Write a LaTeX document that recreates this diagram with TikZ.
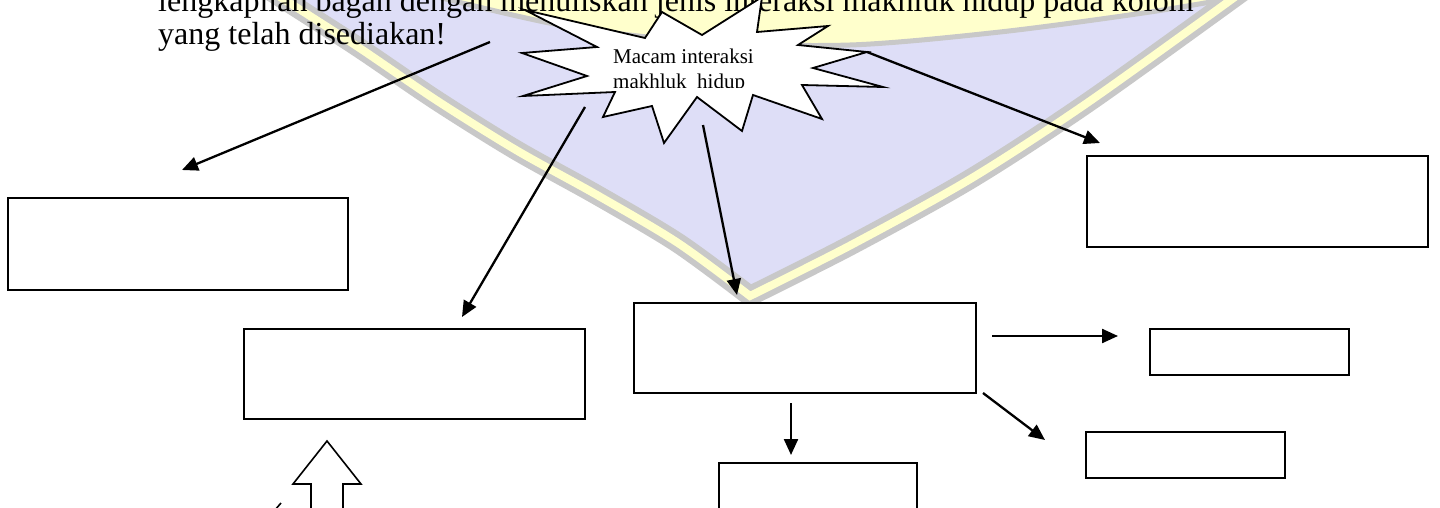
\documentclass[tikz,border=0pt]{standalone}
\usepackage{fontspec}
\setmainfont{Liberation Serif}
\usetikzlibrary{arrows.meta}
\definecolor{wmlav}{RGB}{222,222,247}
\definecolor{wmyel}{RGB}{255,255,204}
\definecolor{wmgray}{RGB}{200,200,200}
\begin{document}
\begin{tikzpicture}[x=1pt,y=-1pt,
  wbox/.style={draw,line width=1.8pt,fill=white,inner sep=0pt,outer sep=0pt,anchor=north west},
  arr/.style={line width=2.3pt,-{Triangle[length=16pt,width=14pt]}},
  bigtext/.style={anchor=base west,inner sep=0pt,font=\fontsize{32}{35}\selectfont},
  startext/.style={anchor=base west,inner sep=0pt,font=\fontsize{21}{24}\selectfont}]
\useasboundingbox (0,0) rectangle (1440,508);
\clip (0,0) rectangle (1440,508);
% watermark
\fill[wmlav] plot[smooth] coordinates {(266,-12) (355,45) (436,100) (516,150) (597,195) (678,243) (750,296)}
   -- plot[smooth] coordinates {(750,296) (853,244) (972,178) (1090,101) (1250,-14)} -- cycle;
\fill[wmyel] (420,-10) -- plot[smooth] coordinates {(430,-5) (560,25) (700,42) (850,45) (1000,32) (1150,12) (1250,-5)} -- (1260,-10) -- cycle;
\draw[wmgray,line width=5pt] plot[smooth] coordinates {(430,-5) (560,25) (700,42) (850,45) (1000,32) (1150,12) (1250,-5)};
\draw[wmgray,line width=20pt,line join=miter] plot[smooth] coordinates {(266,-12) (355,45) (436,100) (516,150) (597,195) (678,243) (750,296)}
   -- plot[smooth] coordinates {(750,296) (853,244) (972,178) (1090,101) (1250,-14)};
\draw[wmyel,line width=8pt,line join=miter] plot[smooth] coordinates {(266,-12) (355,45) (436,100) (516,150) (597,195) (678,243) (750,296)}
   -- plot[smooth] coordinates {(750,296) (853,244) (972,178) (1090,101) (1250,-14)};
% heading text
\node[bigtext] (t1) at (158,12) {lengkapilah bagan dengan menuliskan jenis interaksi makhluk hidup pada kolom};
\node[bigtext] (t2) at (158,45) {yang telah disediakan!};
% star
\draw[line width=1.8pt,fill=white,line join=miter] (525,10) -- (645,38) -- (662,12) -- (702,35) -- (762,-3) -- (757,32) -- (828,26) -- (798,45) -- (867,52) -- (813,68) -- (883,87) -- (802,85) -- (822,119) -- (753,95) -- (742,131) -- (697,97) -- (664,143) -- (652,106) -- (603,117) -- (615,92) -- (523,96) -- (587,76) -- (522,53) -- (597,47) -- cycle;
\begin{scope}
\clip (600,40) rectangle (800,88);
\node[startext] (s1) at (613,64) {Macam interaksi};
\node[startext] (s2) at (613,88.5) {makhluk~~hidup};
\end{scope}
% boxes
\node[wbox,minimum width=340pt,minimum height=92pt] (A) at (8,198) {};
\node[wbox,minimum width=341pt,minimum height=90pt] (B) at (244,329) {};
\node[wbox,minimum width=342pt,minimum height=90pt] (C) at (634,303) {};
\node[wbox,minimum width=341pt,minimum height=91pt] (D) at (1087,156) {};
\node[wbox,minimum width=199pt,minimum height=46pt] (E) at (1150,329) {};
\node[wbox,minimum width=199pt,minimum height=46pt] (F) at (1086,432) {};
\node[wbox,minimum width=198pt,minimum height=70pt] (G) at (719,463) {};
% arrow coordinates
\coordinate (a1s) at (490,42);  \coordinate (a1e) at (182,170);
\coordinate (a2s) at (585,107); \coordinate (a2e) at (462,317);
\coordinate (a3s) at (703,125); \coordinate (a3e) at (737,295);
\coordinate (a4s) at (867,52);  \coordinate (a4e) at (1100,143);
\coordinate (a5s) at (992,336); \coordinate (a5e) at (1118,336);
\coordinate (a6s) at (983,393); \coordinate (a6e) at (1045,440);
\coordinate (a7s) at (791,403); \coordinate (a7e) at (791,455);
\draw[arr] (a1s) -- (a1e);
\draw[arr] (a2s) -- (a2e);
\draw[arr] (a3s) -- (a3e);
\draw[arr] (a4s) -- (a4e);
\draw[arr] (a5s) -- (a5e);
\draw[arr] (a6s) -- (a6e);
\draw[arr] (a7s) -- (a7e);
% block arrow
\draw[line width=1.6pt,fill=white,line join=miter] (311,520) -- (311,484) -- (293,484) -- (327,441) -- (361,484) -- (343,484) -- (343,520);
\draw[line width=1.6pt] (275,510) -- (281,503);
\end{tikzpicture}
\end{document}
